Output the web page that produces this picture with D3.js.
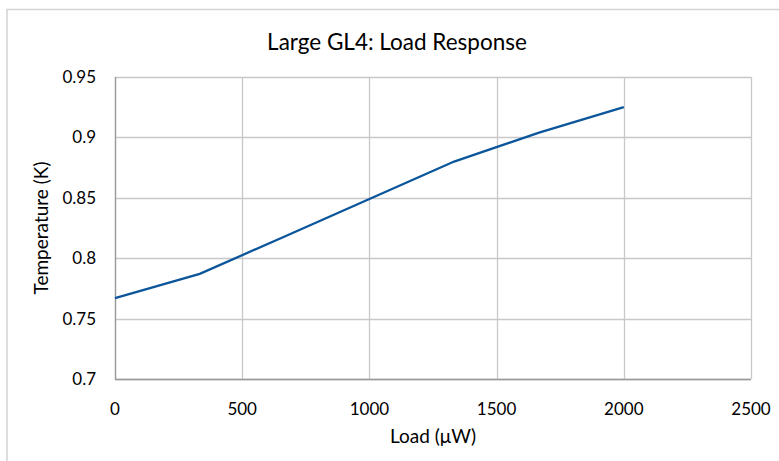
<!DOCTYPE html>
<html><head><meta charset="utf-8">
<script src="https://cdn.jsdelivr.net/npm/d3@7"></script>
<style>body{margin:0;background:#fff;} text{font-family:Lato,"Open Sans",sans-serif;fill:#000;}</style>
</head><body>
<svg id="c" width="779" height="461"></svg>
<script>
const loads = [0, 333, 667, 1000, 1333, 1667, 2000];
const temps = [0.767, 0.787, 0.818, 0.849, 0.880, 0.904, 0.925];
const xTicks = [0, 500, 1000, 1500, 2000, 2500];
const yTicks = [0.7, 0.75, 0.8, 0.85, 0.9, 0.95];
const title = "Large GL4: Load Response";
const xTitle = "Load (\u03BCW)";
const yTitle = "Temperature (K)";

const svg = d3.select("#c");
svg.append("rect").attr("x",7).attr("y",9.5).attr("width",790).attr("height",470)
  .attr("fill","none").attr("stroke","#d4d4d4").attr("stroke-width",1.5);
const m = {l:115, t:77, r:751, b:379};
const x = d3.scaleLinear().domain([0,2500]).range([m.l,m.r]);
const y = d3.scaleLinear().domain([0.7,0.95]).range([m.b,m.t]);
const g = svg.append("g");
g.selectAll(".vg").data(xTicks).join("line")
  .attr("x1",d=>Math.round(x(d))+0.5).attr("x2",d=>Math.round(x(d))+0.5)
  .attr("y1",m.t).attr("y2",m.b).attr("stroke","#c8c8c8").attr("stroke-width",1.3);
g.selectAll(".hg").data(yTicks).join("line")
  .attr("y1",d=>Math.round(y(d))+0.5).attr("y2",d=>Math.round(y(d))+0.5)
  .attr("x1",m.l).attr("x2",m.r).attr("stroke","#c8c8c8").attr("stroke-width",1.3);
g.append("line").attr("x1",m.l+0.5).attr("x2",m.l+0.5).attr("y1",m.t).attr("y2",m.b).attr("stroke","#999").attr("stroke-width",1.3);
g.append("line").attr("x1",m.l).attr("x2",m.r).attr("y1",m.b+0.5).attr("y2",m.b+0.5).attr("stroke","#999").attr("stroke-width",1.3);
svg.selectAll(".xt").data(xTicks).join("text").attr("x",d=>x(d)).attr("y",415)
  .attr("text-anchor","middle").attr("font-size",17).text(d=>d);
svg.selectAll(".yt").data(yTicks).join("text").attr("x",96).attr("y",d=>y(d)+6)
  .attr("text-anchor","end").attr("font-size",17).text(d=>d);
svg.append("path").datum(loads.map((l,i)=>[l,temps[i]]))
  .attr("d",d3.line().x(d=>x(d[0])).y(d=>y(d[1])))
  .attr("fill","none").attr("stroke","#0b559b").attr("stroke-width",2.3);
svg.append("text").attr("x",397).attr("y",50).attr("text-anchor","middle").attr("font-size",22.5).text(title);
svg.append("text").attr("x",433).attr("y",443).attr("text-anchor","middle").attr("font-size",19).text(xTitle);
svg.append("text").attr("transform","translate(48,228) rotate(-90)").attr("text-anchor","middle").attr("font-size",19).text(yTitle);
</script>
</body></html>
